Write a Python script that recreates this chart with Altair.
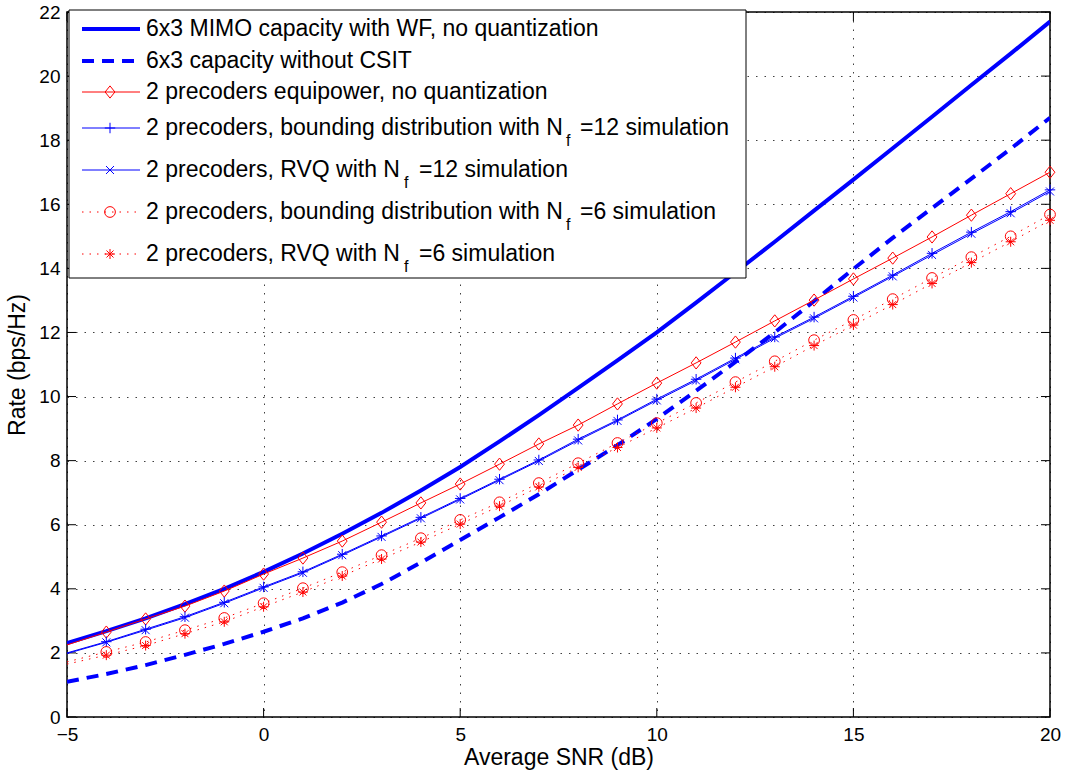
import altair as alt
import pandas as pd

FONT = "Liberation Sans"

snr = list(range(-5, 21))
wf = [2.31, 2.68, 3.08, 3.52, 4.0, 4.53, 5.1, 5.72, 6.37, 7.07, 7.8, 8.6, 9.42,
      10.27, 11.13, 12.0, 12.93, 13.88, 14.83, 15.8, 16.77, 17.75, 18.73, 19.72, 20.7, 21.7]
nocsit = [1.1, 1.34, 1.62, 1.94, 2.28, 2.66, 3.08, 3.57, 4.15, 4.82, 5.52, 6.23, 6.95,
          7.72, 8.48, 9.3, 10.18, 11.08, 12.0, 12.98, 13.98, 14.95, 15.88, 16.8, 17.73, 18.7]
equip = [2.25, 2.65, 3.06, 3.46, 3.93, 4.46, 4.96, 5.49, 6.08, 6.68, 7.27, 7.89, 8.52,
         9.11, 9.77, 10.42, 11.05, 11.70, 12.36, 13.01, 13.67, 14.32, 14.98, 15.66, 16.33, 17.0]
bound12 = [2.0, 2.35, 2.74, 3.13, 3.58, 4.06, 4.53, 5.08, 5.65, 6.23, 6.82, 7.42, 8.02,
           8.67, 9.27, 9.92, 10.54, 11.2, 11.86, 12.48, 13.13, 13.79, 14.47, 15.13, 15.77, 16.45]
rvq12 = [1.98, 2.33, 2.71, 3.1, 3.55, 4.03, 4.5, 5.05, 5.62, 6.2, 6.79, 7.39, 7.99,
         8.63, 9.24, 9.88, 10.5, 11.16, 11.82, 12.44, 13.09, 13.75, 14.42, 15.08, 15.72, 16.4]
bound6 = [1.72, 2.03, 2.34, 2.71, 3.09, 3.55, 4.02, 4.52, 5.05, 5.58, 6.15, 6.7, 7.3,
          7.92, 8.55, 9.17, 9.8, 10.45, 11.1, 11.76, 12.39, 13.04, 13.7, 14.35, 15.0, 15.68]
rvq6 = [1.65, 1.93, 2.23, 2.6, 2.97, 3.44, 3.9, 4.4, 4.93, 5.46, 6.02, 6.58, 7.18,
        7.79, 8.41, 9.02, 9.64, 10.29, 10.93, 11.59, 12.23, 12.87, 13.53, 14.18, 14.83, 15.5]

x_ticks = [-5, 0, 5, 10, 15, 20]
y_ticks = [0, 2, 4, 6, 8, 10, 12, 14, 16, 18, 20, 22]

labels = [
    ("6x3 MIMO capacity with WF, no quantization", None, None),
    ("6x3 capacity without CSIT", None, None),
    ("2 precoders equipower, no quantization", None, None),
    ("2 precoders, bounding distribution with N", "f", "=12 simulation"),
    ("2 precoders, RVQ with N", "f", "=12 simulation"),
    ("2 precoders, bounding distribution with N", "f", "=6 simulation"),
    ("2 precoders, RVQ with N", "f", "=6 simulation"),
]

W, H = 983, 705
BLUE = "#0000ff"
RED = "#ff0000"

DIAMOND = "M0,-1L0.8,0L0,1L-0.8,0Z"
PLUS = "M-1,0L1,0M0,-1L0,1"
XMARK = "M-1,-1L1,1M-1,1L1,-1"
STAR = "M-1,0L1,0M0,-1L0,1M-0.7,-0.7L0.7,0.7M-0.7,0.7L0.7,-0.7"

series = [
    # values, color, width, dash, shape, size
    (wf, BLUE, 4, None, None, 0),
    (nocsit, BLUE, 4, [12, 8], None, 0),
    (equip, RED, 1, None, DIAMOND, 150),
    (bound12, BLUE, 1, None, PLUS, 110),
    (rvq12, BLUE, 1, None, XMARK, 64),
    (bound6, RED, 1, [1.5, 6], "circle", 115),
    (rvq6, RED, 1, [1.5, 6], STAR, 100),
]

xs = alt.Scale(domain=[-5, 20], nice=False, zero=False)
ys = alt.Scale(domain=[0, 22], nice=False, zero=False)

xaxis = alt.Axis(values=x_ticks, grid=True, gridDash=[1.5, 7], gridColor="#000",
                 gridOpacity=0.75, ticks=False, domain=False, labelFontSize=19,
                 labelFont=FONT, labelColor="#000", labelPadding=8, titleFont=FONT,
                 titleFontSize=23, titleFontWeight="normal", titleColor="#000",
                 titlePadding=2, labelFlush=False, format="d")
yaxis = alt.Axis(values=y_ticks, grid=True, gridDash=[1.5, 7], gridColor="#000",
                 gridOpacity=0.75, ticks=False, domain=False, labelFontSize=19,
                 labelFont=FONT, labelColor="#000", labelPadding=7, titleFont=FONT,
                 titleFontSize=23, titleFontWeight="normal", titleColor="#000",
                 titlePadding=9, labelFlush=False, format="d")
X = alt.X("snr:Q", scale=xs, title="Average SNR (dB)", axis=xaxis)
Y = alt.Y("rate:Q", scale=ys, title="Rate (bps/Hz)", axis=yaxis)

layers = []

# inward ticks
xt = pd.DataFrame({"snr": x_ticks})
yt = pd.DataFrame({"rate": y_ticks})
for y0, y1 in [(H, H - 9), (0, 9)]:
    layers.append(alt.Chart(xt).mark_rule(color="#000", strokeWidth=1).encode(
        x=X, y=alt.value(y0), y2=alt.value(y1)))
for x0, x1 in [(0, 9), (W - 9, W)]:
    layers.append(alt.Chart(yt).mark_rule(color="#000", strokeWidth=1).encode(
        y=Y, x=alt.value(x0), x2=alt.value(x1)))

for vals, color, sw, dash, shape, size in series:
    df = pd.DataFrame({"snr": snr, "rate": vals})
    kw = dict(color=color, strokeWidth=sw, clip=True)
    if dash:
        kw["strokeDash"] = dash
    layers.append(alt.Chart(df).mark_line(**kw).encode(x=X, y=Y))
    if shape:
        mdf = df[df["snr"] >= -4]
        layers.append(alt.Chart(mdf).mark_point(shape=shape, size=size, filled=False,
                                                 stroke=color, strokeWidth=1, opacity=1).encode(
            x=X, y=Y))

# legend
dummy = alt.Data(values=[{}])
layers.append(alt.Chart(dummy).mark_rect(fill="white", stroke="#000", strokeWidth=1).encode(
    x=alt.value(2), x2=alt.value(679), y=alt.value(-2), y2=alt.value(266)))
rows = [17, 49, 80, 116, 158, 200, 242]
sub_x = {"bounding": (499, 513), "RVQ": (337, 352)}
for (vals, color, sw, dash, shape, size), (t1, sub, t2), ry in zip(series, labels, rows):
    kw = dict(color=color, strokeWidth=sw)
    if dash:
        kw["strokeDash"] = dash
    layers.append(alt.Chart(dummy).mark_rule(**kw).encode(
        x=alt.value(15), x2=alt.value(73), y=alt.value(ry)))
    if shape:
        layers.append(alt.Chart(dummy).mark_point(shape=shape, size=size, filled=False,
                                                   stroke=color, strokeWidth=1, opacity=1).encode(
            x=alt.value(43), y=alt.value(ry)))
    layers.append(alt.Chart(dummy).mark_text(align="left", baseline="middle", font=FONT,
                                              fontSize=23, color="#000").encode(
        x=alt.value(79), y=alt.value(ry), text=alt.value(t1)))
    if sub:
        key = "bounding" if "bounding" in t1 else "RVQ"
        sx, tx = sub_x[key]
        layers.append(alt.Chart(dummy).mark_text(align="left", baseline="middle", font=FONT,
                                                  fontSize=16, color="#000").encode(
            x=alt.value(sx), y=alt.value(ry + 13), text=alt.value(sub)))
        layers.append(alt.Chart(dummy).mark_text(align="left", baseline="middle", font=FONT,
                                                  fontSize=23, color="#000").encode(
            x=alt.value(tx), y=alt.value(ry), text=alt.value(t2)))

chart = alt.layer(*layers).properties(
    width=W, height=H,
    autosize=alt.AutoSizeParams(type="none"),
    padding={"left": 67, "top": 12, "right": 22, "bottom": 61},
    background="white",
).configure_view(stroke="#000", strokeWidth=1.5)

chart.save("out.html", embed_options={"renderer": "svg", "actions": False})
